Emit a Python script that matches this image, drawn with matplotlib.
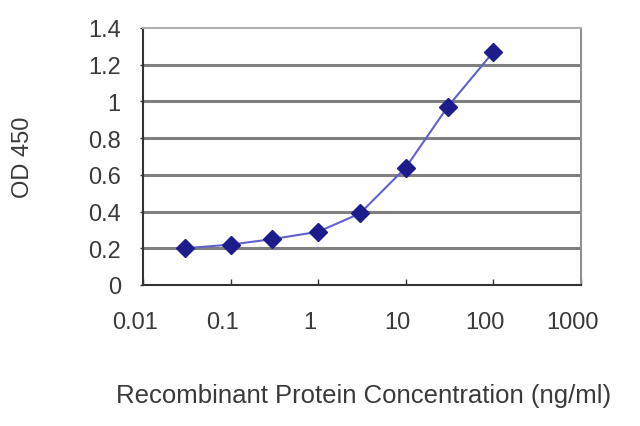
import matplotlib
matplotlib.use("Agg")
import matplotlib.pyplot as plt
from matplotlib.transforms import ScaledTranslation

conc = [0.03, 0.1, 0.3, 1, 3, 10, 30, 100]
od450 = [0.20, 0.22, 0.25, 0.29, 0.39, 0.64, 0.97, 1.27]
xticks = [0.01, 0.1, 1, 10, 100, 1000]
xticklabels = ["0.01", "0.1", "1", "10", "100", "1000"]
yticks = [0, 0.2, 0.4, 0.6, 0.8, 1, 1.2, 1.4]
yticklabels = ["0", "0.2", "0.4", "0.6", "0.8", "1", "1.2", "1.4"]

plt.rcParams['font.family'] = ['Liberation Sans', 'DejaVu Sans']

fig = plt.figure(figsize=(6.4, 4.27), dpi=100)
ax = fig.add_axes([143/640, (427-286)/427, (581-143)/640, (286-29)/427])

ax.set_xscale('log')
ax.set_xlim(0.01, 1000)
ax.set_ylim(0, 1.4)

for y in yticks[1:-1]:
    ax.axhline(y, color='#7f7f7f', lw=2.2, zorder=1)

ax.plot(conc, od450, color='#6060d0', lw=1.5, zorder=2)
ax.plot(conc, od450, linestyle='none', marker='D', ms=9, color='#1c1c8c', zorder=3)

ax.set_xticks(xticks)
ax.set_xticklabels(xticklabels)
ax.minorticks_off()
ax.set_yticks(yticks)
ax.set_yticklabels(yticklabels)

ax.tick_params(axis='x', direction='in', length=4, width=1, color='#333333',
               labelsize=17, labelcolor='#3a3a3a', pad=19)
ax.tick_params(axis='y', direction='out', length=2, width=1, color='#333333',
               labelsize=17, labelcolor='#3a3a3a', pad=14)

off = ScaledTranslation(-8/100, 0, fig.dpi_scale_trans)
for lbl in ax.get_xticklabels():
    lbl.set_transform(lbl.get_transform() + off)

ax.spines['left'].set_color('#333333')
ax.spines['bottom'].set_color('#333333')
ax.spines['left'].set_linewidth(1.5)
ax.spines['bottom'].set_linewidth(1.5)
ax.spines['top'].set_color('#b0b0b0')
ax.spines['right'].set_color('#909090')
ax.spines['top'].set_linewidth(1.5)
ax.spines['right'].set_linewidth(1.5)

fig.text(23/640, 1 - 157/427, 'OD 450', rotation=90, ha='center', va='center',
         fontsize=17, color='#3a3a3a')
fig.text(364/640, 1 - 396/427, 'Recombinant Protein Concentration (ng/ml)',
         ha='center', va='center', fontsize=18.5, color='#3a3a3a')

fig.savefig('out.png', dpi=100)
